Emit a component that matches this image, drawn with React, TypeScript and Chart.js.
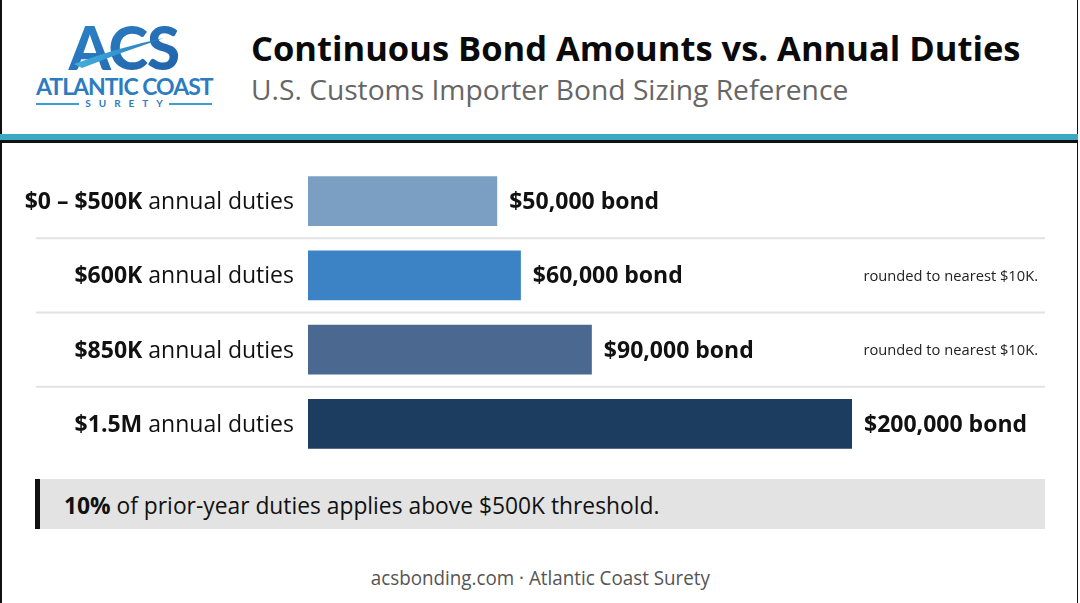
import { useEffect, useRef } from "react";
import { Chart, registerables, type Plugin } from "chart.js";

Chart.register(...registerables);

// ── Data ──────────────────────────────────────────────────────────────────────
const DUTY_BOLD = ["$0 – $500K", "$600K", "$850K", "$1.5M"];
const DUTY_REST = " annual duties";
const BOND_AMOUNTS = [50000, 60000, 90000, 200000];
const BOND_LABELS = ["$50,000 bond", "$60,000 bond", "$90,000 bond", "$200,000 bond"];
const NOTES = ["", "rounded to nearest $10K.", "rounded to nearest $10K.", ""];
const BAR_COLORS = ["#7b9fc3", "#3b83c5", "#4a6890", "#1d3d60"];

// value axis starts below zero so the short bars keep their length
const X_MIN = -30000;
const X_MAX = 200000;

const FONT = "'Open Sans', 'DejaVu Sans', sans-serif";

// ── Row labels, value labels, notes, separators ───────────────────────────────
const rowsPlugin: Plugin<"bar"> = {
  id: "rows",
  afterDraw(chart) {
    const { ctx } = chart;
    const y = chart.scales.y;
    const meta = chart.getDatasetMeta(0);
    ctx.save();

    // separators between rows
    ctx.strokeStyle = "#e2e2e2";
    ctx.lineWidth = 2;
    for (let i = 0; i < DUTY_BOLD.length - 1; i++) {
      const yy = (y.getPixelForTick(i) + y.getPixelForTick(i + 1)) / 2;
      ctx.beginPath();
      ctx.moveTo(36, yy);
      ctx.lineTo(1045, yy);
      ctx.stroke();
    }

    ctx.textBaseline = "middle";
    DUTY_BOLD.forEach((bold, i) => {
      const cy = y.getPixelForTick(i) + 1.5;
      // category label: bold part + regular part, right aligned
      ctx.fillStyle = "#111";
      ctx.font = `400 23px ${FONT}`;
      const restW = ctx.measureText(DUTY_REST).width;
      ctx.font = `700 23px ${FONT}`;
      const boldW = ctx.measureText(bold).width;
      const right = chart.chartArea.left - 14;
      ctx.textAlign = "left";
      ctx.fillText(bold, right - restW - boldW, cy);
      ctx.font = `400 23px ${FONT}`;
      ctx.fillText(DUTY_REST, right - restW, cy);

      // value label after the bar
      const bar = meta.data[i] as any;
      ctx.font = `700 23px ${FONT}`;
      ctx.fillText(BOND_LABELS[i], bar.x + 12, cy);

      // note
      if (NOTES[i]) {
        ctx.font = `400 14.7px ${FONT}`;
        ctx.fillStyle = "#222";
        ctx.textAlign = "right";
        ctx.fillText(NOTES[i], 1038, cy);
      }
    });
    ctx.restore();
  },
};

function BondChart() {
  const canvasRef = useRef<HTMLCanvasElement>(null);

  useEffect(() => {
    const canvas = canvasRef.current;
    if (!canvas) return;
    const chart = new Chart(canvas, {
      type: "bar",
      plugins: [rowsPlugin],
      data: {
        labels: DUTY_BOLD,
        datasets: [
          {
            data: BOND_AMOUNTS,
            base: X_MIN,
            backgroundColor: BAR_COLORS,
            borderWidth: 0,
            categoryPercentage: 1,
            barPercentage: 0.67,
          },
        ],
      },
      options: {
        indexAxis: "y",
        responsive: true,
        maintainAspectRatio: false,
        animation: false,
        layout: { padding: { left: 308, right: 228, top: 21, bottom: 12 } },
        plugins: { legend: { display: false }, tooltip: { enabled: false } },
        scales: {
          x: { display: false, min: X_MIN, max: X_MAX },
          y: { display: false },
        },
      },
    });
    return () => chart.destroy();
  }, []);

  return (
    <div style={{ position: "absolute", left: 0, top: 143, width: 1080, height: 330 }}>
      <canvas ref={canvasRef} style={{ display: "block" }} />
    </div>
  );
}

function Logo() {
  return (
    <div style={{ position: "absolute", left: 36, top: 22, width: 176 }}>
      <svg width="176" height="52" viewBox="0 0 176 52" style={{ display: "block" }}>
        <defs>
          <linearGradient id="lg" x1="0" y1="0" x2="1" y2="1">
            <stop offset="0" stopColor="#2f86c8" />
            <stop offset="1" stopColor="#1f5fa8" />
          </linearGradient>
          <linearGradient id="lg2" x1="0" y1="0" x2="1" y2="0">
            <stop offset="0" stopColor="#3fb0dc" />
            <stop offset="1" stopColor="#2a78c0" />
          </linearGradient>
        </defs>
        <text x="88" y="48" textAnchor="middle" fontFamily="Lato, sans-serif" fontWeight={900}
          fontSize="60" letterSpacing="-1" fill="url(#lg)">ACS</text>
        <path d="M38 42 Q 80 26 128 16 Q 86 30 46 46 Z" fill="url(#lg2)" />
      </svg>
      <div style={{
        fontFamily: "Lato, sans-serif", fontWeight: 700, fontSize: 23, color: "#2b7cc1",
        textAlign: "center", lineHeight: "24px", letterSpacing: -1, whiteSpace: "nowrap",
      }}>ATLANTIC COAST</div>
      <div style={{ display: "flex", alignItems: "center", gap: 6, marginTop: 0 }}>
        <div style={{ flex: 1, height: 2, background: "#3a9fd4" }} />
        <div style={{
          fontFamily: "Lato, sans-serif", fontWeight: 700, fontSize: 10, color: "#2b7cc1",
          letterSpacing: 8, lineHeight: "11px", marginRight: -8,
        }}>SURETY</div>
        <div style={{ flex: 1, height: 2, background: "#3a9fd4" }} />
      </div>
    </div>
  );
}

export default function App() {
  useEffect(() => {
    document.body.style.margin = "0";
  }, []);

  return (
    <div style={{
      position: "relative", width: 1080, height: 603, background: "#fff",
      overflow: "hidden", fontFamily: FONT,
    }}>
      {/* frame */}
      <div style={{ position: "absolute", left: 0, top: 0, width: 2, height: 603, background: "#111" }} />
      <div style={{ position: "absolute", left: 1077, top: 0, width: 1, height: 603, background: "#111" }} />

      {/* header */}
      <Logo />
      <div style={{
        position: "absolute", left: 251, top: 25, fontSize: 34.5, fontWeight: 700,
        color: "#0a0a0a", lineHeight: "46px", whiteSpace: "nowrap",
      }}>Continuous Bond Amounts vs. Annual Duties</div>
      <div style={{
        position: "absolute", left: 251, top: 70, fontSize: 28.2, fontWeight: 400,
        color: "#666", lineHeight: "39px", whiteSpace: "nowrap",
      }}>U.S. Customs Importer Bond Sizing Reference</div>
      <div style={{ position: "absolute", left: 0, top: 134, width: 1078, height: 6, background: "#3aaac3" }} />
      <div style={{ position: "absolute", left: 0, top: 140, width: 1078, height: 3, background: "#111" }} />

      <BondChart />

      {/* note box */}
      <div style={{
        position: "absolute", left: 35, top: 479, width: 1010, height: 50,
        background: "#e3e3e3", borderLeft: "5px solid #111", boxSizing: "border-box",
        display: "flex", alignItems: "center",
      }}>
        <div style={{
          marginLeft: 24, fontSize: 24, color: "#111", whiteSpace: "nowrap",
          transform: "scaleX(0.95)", transformOrigin: "left center",
        }}>
          <b>10%</b> of prior-year duties applies above $500K threshold.
        </div>
      </div>

      {/* footer */}
      <div style={{
        position: "absolute", left: 0, top: 564, width: 1080, textAlign: "center",
        fontSize: 20, color: "#555", lineHeight: "28px",
      }}>
        <span style={{ display: "inline-block", transform: "scaleX(0.94)" }}>
          acsbonding.com · Atlantic Coast Surety
        </span>
      </div>
    </div>
  );
}
